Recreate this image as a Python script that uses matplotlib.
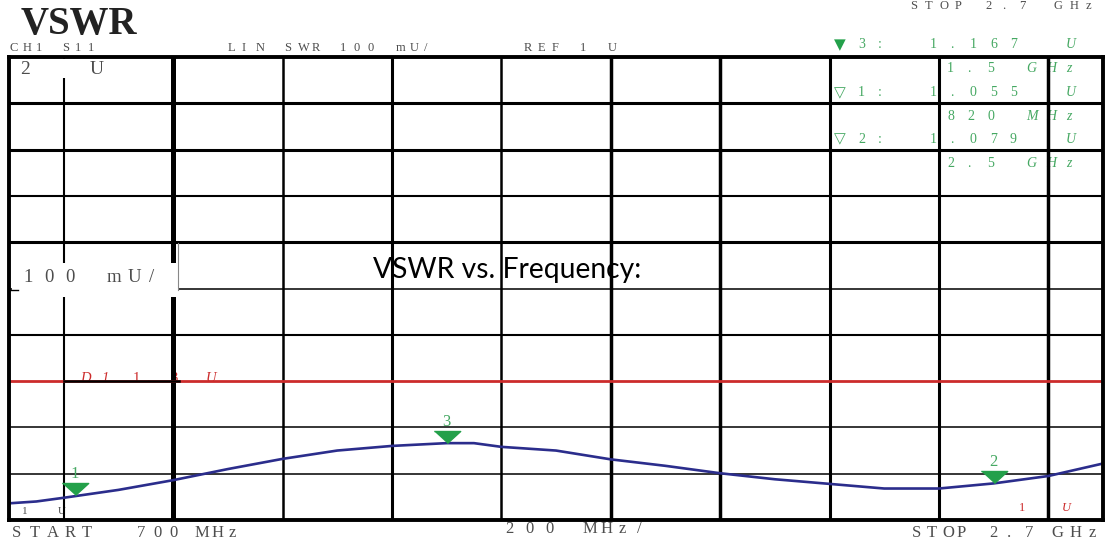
import matplotlib.pyplot as plt
from matplotlib.patches import Rectangle

# Trace (S11, linear SWR)
freq_mhz = [700, 750, 800, 900, 1000, 1100, 1200, 1300, 1400, 1500, 1550, 1600,
            1700, 1800, 1900, 2000, 2100, 2200, 2300, 2400, 2500, 2600, 2700]
vswr = [1.036, 1.040, 1.048, 1.065, 1.086, 1.110, 1.132, 1.150, 1.160, 1.166, 1.166, 1.158,
        1.150, 1.131, 1.117, 1.101, 1.088, 1.078, 1.068, 1.068, 1.079, 1.095, 1.122]

# Markers (number, frequency, value, frequency label)
marker_ids = ['1', '2', '3']
marker_freq = [820, 2500, 1500]
marker_vswr = [1.055, 1.079, 1.167]
marker_flabel = ['820', '2.5', '1.5']
marker_funit = ['MHz', 'GHz', 'GHz']

limit_vswr = 1.3
x_grid = [800, 1000, 1200, 1400, 1600, 1800, 2000, 2200, 2400, 2600]
x_grid_lw = [1.5, 3.6, 1.8, 2.2, 1.8, 2.5, 2.5, 2.2, 2.2, 2.5]
y_grid = [1.1, 1.2, 1.4, 1.5, 1.6, 1.7, 1.8, 1.9]
y_grid_lw = [1.1, 1.1, 1.5, 1.1, 2.2, 1.5, 2.2, 2.2]

W, H = 1118, 545
fig = plt.figure(figsize=(W / 100, H / 100), dpi=100)
ax = fig.add_axes([9 / W, 1 - 520 / H, (1103 - 9) / W, (520 - 57) / H])
ax.set_xlim(700, 2700)
ax.set_ylim(1.0, 2.0)
ax.set_xticks([])
ax.set_yticks([])
for s in ax.spines.values():
    s.set_linewidth(2.8)
    s.set_zorder(7)

tf = fig.transFigure
GREY = '#4d4d4d'
GREEN = '#45a862'
RED = '#cc2b2b'
SERIF = 'Liberation Serif'


def fx(x):
    return x / W


def fy(y):
    return 1 - y / H


def mono(x0, y, s, pitch, size, color=GREY, style='normal', z=1):
    # analyser font is wide and monospaced: place each character on a fixed pitch
    for i, ch in enumerate(s):
        if ch != ' ':
            ax.text(fx(x0 + i * pitch), fy(y), ch, transform=tf, ha='left', va='center',
                    fontsize=size, color=color, family=SERIF, style=style,
                    clip_on=False, zorder=z)


# grid
for xv, lw in zip(x_grid, x_grid_lw):
    ax.axvline(xv, color='black', lw=lw, zorder=2)
for yv, lw in zip(y_grid, y_grid_lw):
    ax.axhline(yv, color='black', lw=lw, zorder=2)

# limit line, black where it overlaps the label
ax.axhline(limit_vswr, color=RED, lw=2.0, zorder=2)
ax.plot([800, 1010], [limit_vswr, limit_vswr], color='black', lw=1.8, zorder=2.5)
mono(80, 379, 'D1', 21, 10.5, RED, 'italic')
mono(133, 379, '1.', 14, 10.5, RED)
mono(170, 379, '3', 14, 10.5, RED)
mono(206, 379, 'U', 14, 10.5, RED, 'italic')

# white label boxes that break the grid
ax.add_patch(Rectangle((fx(14), fy(78)), fx(110 - 14), fy(59) - fy(78), transform=tf,
                       facecolor='white', edgecolor='none', zorder=3, clip_on=False))
ax.add_patch(Rectangle((fx(12), fy(297)), fx(178 - 12), fy(263) - fy(297), transform=tf,
                       facecolor='white', edgecolor='none', zorder=3, clip_on=False))
ax.plot([fx(178), fx(178)], [fy(243), fy(290)], transform=tf, color='#888888', lw=0.8,
        zorder=3.5, clip_on=False)
ax.plot([fx(9), fx(18)], [fy(290), fy(290)], transform=tf, color='black', lw=1.0,
        zorder=3.5, clip_on=False)
mono(20, 69, '2', 14, 14, z=4)
mono(90, 69, 'U', 14, 14, z=4)
mono(23, 277, '100 mU/', 21, 13.5, z=4)

# trace
ax.plot(freq_mhz, vswr, color='#2b2d8c', lw=1.9, zorder=5)

# markers: tip of the triangle sits on the trace
tri = [(-2.2, 2.0), (2.2, 2.0), (0, 0)]
ax.plot(marker_freq, marker_vswr, linestyle='none', marker=tri, markersize=19,
        color='#23a04a', zorder=6)
for mid, f, v in zip(marker_ids, marker_freq, marker_vswr):
    ax.annotate(mid, (f, v), xytext=(0, 21), textcoords='offset pixels', ha='center',
                va='center', fontsize=12, color=GREEN, family=SERIF, zorder=6)

# marker readout table (top right)
rows_y = [45, 93, 139]
order = [2, 0, 1]
for k, ry in zip(order, rows_y):
    sym = '\u25bc' if k == 2 else '\u25bd'
    ax.text(fx(834), fy(ry), sym, transform=tf, ha='left', va='center', fontsize=11,
            color='#23a04a' if k == 2 else GREEN, family='DejaVu Sans', clip_on=False, zorder=1)
    mono(858, ry, marker_ids[k], 14, 10, GREEN)
    mono(878, ry, ':', 14, 10, GREEN)
    mono(930, ry, f'{marker_vswr[k]:.3f}', 20, 10, GREEN)
    mono(1066, ry, 'U', 14, 10, GREEN, 'italic')
    mono(947, ry + 24, marker_flabel[k], 20, 10, GREEN)
    mono(1026, ry + 24, marker_funit[k], 20, 10, GREEN, 'italic')

# header / footer annotations
ax.text(fx(21), fy(34), 'VSWR', transform=tf, ha='left', va='baseline', fontsize=28,
        fontweight='bold', family=SERIF, color='#222222', clip_on=False)
mono(10, 48, 'CH1 S11', 13, 9)
mono(228, 48, 'LIN SWR 100 mU/', 14, 9)
mono(524, 48, 'REF 1 U', 14, 9)
mono(910, 6, 'STOP', 15, 9)
mono(985, 6, '2.7', 17, 9)
mono(1054, 6, 'GHz', 16, 9)

mono(22, 511, '1', 14, 8)
mono(58, 511, 'U', 14, 8)
mono(1019, 508, '1', 14, 9, RED)
mono(1062, 508, 'U', 14, 9, RED, 'italic')

mono(12, 533, 'START', 17.5, 12)
mono(137, 533, '700', 16, 12)
mono(195, 533, 'MHz', 17, 12)
mono(505, 529, '200', 20, 12)
mono(583, 529, 'MHz/', 18, 12)
mono(912, 533, 'STOP', 15, 12)
mono(989, 533, '2.7', 18, 12)
mono(1051, 533, 'GHz', 19, 12)

ax.text(fx(373), fy(278), 'VSWR vs. Frequency:', transform=tf, ha='left', va='baseline',
        fontsize=20.3, family='Lato', color='black', clip_on=False, zorder=1)

fig.savefig('out.png', dpi=100)
